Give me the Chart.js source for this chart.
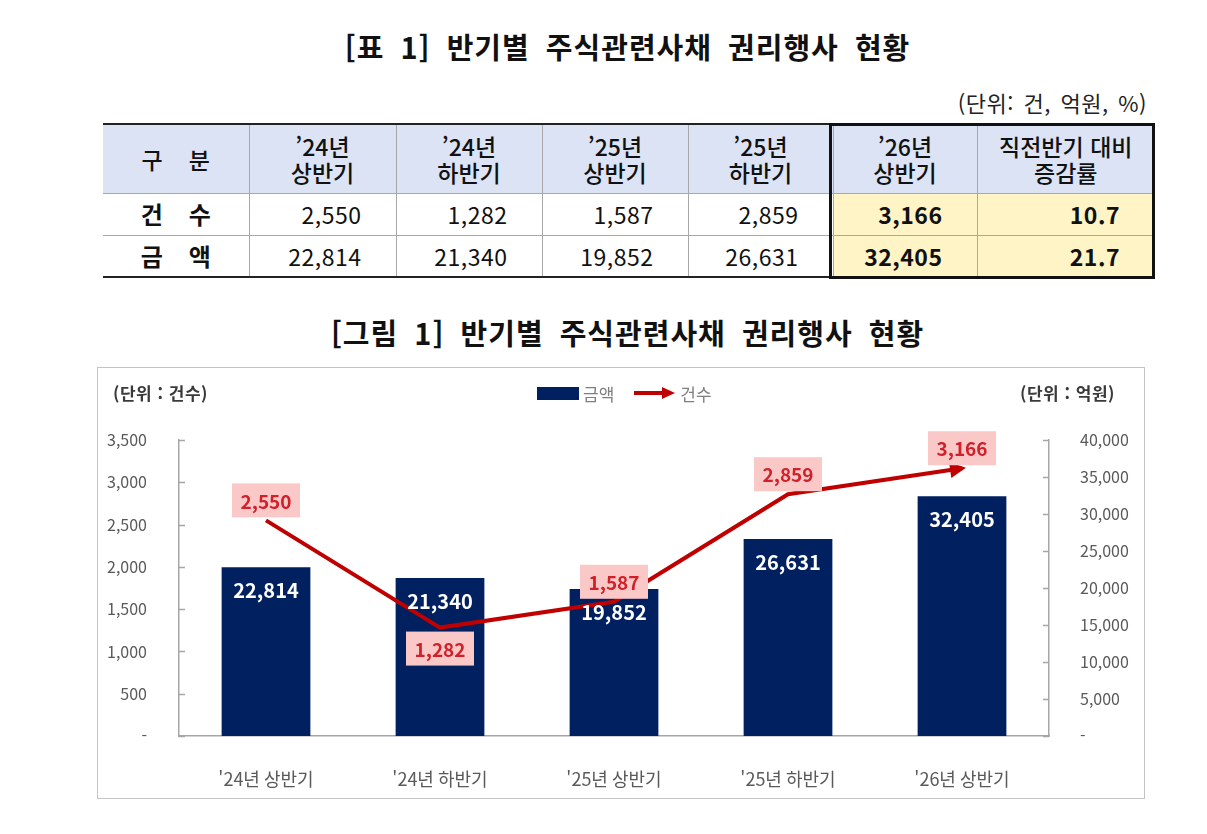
<!DOCTYPE html>
<html lang="ko">
<head>
<meta charset="utf-8">
<title>반기별 주식관련사채 권리행사 현황</title>
<script src="https://cdn.jsdelivr.net/npm/chart.js@4.4.1/dist/chart.umd.min.js"></script>
<style>
    * { box-sizing: border-box; }
    body {
        margin: 0;
        width: 1207px;
        height: 834px;
        position: relative;
        background: #fff;
        overflow: hidden;
        font-family: 'Noto Sans CJK KR', sans-serif;
        color: #111;
    }
    .title {
        position: absolute;
        left: 24px;
        width: 1207px;
        text-align: center;
        font-size: 29px;
        font-weight: 700;
        line-height: 32px;
        letter-spacing: 1px;
        word-spacing: 7px;
    }
    #title1 { top: 30px; }
    #title2 { top: 316px; }
    #unit {
        position: absolute;
        right: 60px;
        top: 86px;
        font-size: 22px;
        letter-spacing: 0.5px;
        word-spacing: 3px;
        color: #222;
    }

    /* ---------- 표 ---------- */
    #summary {
        position: absolute;
        left: 103px;
        top: 123px;
        border-collapse: collapse;
        table-layout: fixed;
        width: 1051px;
    }
    #summary td, #summary th {
        border-left: 1px solid #a8a8a8;
        border-top: 1px solid #a8a8a8;
        padding: 0;
        font-size: 23px;
        line-height: 26px;
    }
    #summary th {
        background: #dce3f4;
        font-weight: 500;
        text-align: center;
        height: 69px;
        border-top: 2px solid #222;
    }
    #summary td { text-align: right; padding-right: 34px; height: 42px; letter-spacing: 0.5px; }
    #summary tr:last-child td { border-bottom: 2px solid #222; }
    #summary .lab { text-align: center; padding: 0; font-weight: 700; font-size: 24px; letter-spacing: 26px; text-indent: 26px; }
    #summary th.lab { font-weight: 500; font-size: 23px; }
    #summary tr > :first-child { border-left: none; }
    #summary .hl { background: #fff4c6; font-weight: 700; }
    #hlBox {
        position: absolute;
        left: 829px;
        top: 123px;
        width: 326px;
        height: 156px;
        border: 3px solid #111;
        pointer-events: none;
    }

    /* ---------- 그림 ---------- */
    #chartBox {
        position: absolute;
        left: 97px;
        top: 367px;
        width: 1048px;
        height: 432px;
        border: 1px solid #c4c4c4;
    }
    .unitLab {
        position: absolute;
        top: 380px;
        font-size: 17px;
        font-weight: 700;
        letter-spacing: 0.5px;
        color: #3a3a3a;
    }
    #legend {
        position: absolute;
        left: 537px;
        top: 380px;
        height: 26px;
        display: flex;
        align-items: center;
        font-size: 17px;
        color: #7f7f7f;
    }
    #legend .bar { width: 42px; height: 13px; background: #002060; margin-right: 4px; }
    #legend svg { margin: 0 4px 0 20px; }
</style>
</head>
<body>

<div class="title" id="title1">[표 1] 반기별 주식관련사채 권리행사 현황</div>
<div id="unit">(단위: 건, 억원, %)</div>
<table id="summary"></table>
<div id="hlBox"></div>

<div class="title" id="title2">[그림 1] 반기별 주식관련사채 권리행사 현황</div>
<div id="chartBox"><canvas id="mainChart" width="1046" height="430"></canvas></div>
<div class="unitLab" style="left:113px">(단위 : 건수)</div>
<div class="unitLab" style="left:1020px">(단위 : 억원)</div>
<div id="legend">
    <div class="bar"></div><span>금액</span>
    <svg width="42" height="14" viewBox="0 0 42 14"><line x1="0" y1="7" x2="30" y2="7" stroke="#c00000" stroke-width="4"/><polygon points="28,1 41,7 28,13" fill="#c00000"/></svg>
    <span>건수</span>
</div>

<script>
/* ---------- 데이터 ---------- */
const periods = ["'24년 상반기", "'24년 하반기", "'25년 상반기", "'25년 하반기", "'26년 상반기"];
const tableHeads = ["’24년<br>상반기", "’24년<br>하반기", "’25년<br>상반기", "’25년<br>하반기", "’26년<br>상반기", "직전반기 대비<br>증감률"];
const counts = [2550, 1282, 1587, 2859, 3166];       // 건수
const amounts = [22814, 21340, 19852, 26631, 32405]; // 금액(억원)
const changeRates = ["10.7", "21.7"];                // 직전반기 대비 증감률(%)
const countTicks = [0, 500, 1000, 1500, 2000, 2500, 3000, 3500];
const amountTicks = [0, 5000, 10000, 15000, 20000, 25000, 30000, 35000, 40000];

const NAVY = "#002060";
const RED = "#c00000";
const AXIS = "#a6a6a6";
const FONT = "'Noto Sans CJK KR', sans-serif";

const fmt = v => v.toLocaleString("en-US");

/* ---------- 표 ---------- */
function buildTable() {
    const t = document.getElementById("summary");
    const widths = [146, 147, 146, 146, 145, 144, 177];
    let html = "<colgroup>" + widths.map(w => `<col style="width:${w}px">`).join("") + "</colgroup>";
    html += `<tr><th class="lab">구분</th>${tableHeads.map(h => `<th>${h}</th>`).join("")}</tr>`;
    const rows = [["건수", counts, changeRates[0]], ["금액", amounts, changeRates[1]]];
    rows.forEach(([name, vals, rate]) => {
        html += `<tr><td class="lab">${name}</td>`;
        vals.forEach((v, i) => {
            html += `<td${i === vals.length - 1 ? ' class="hl"' : ""}>${fmt(v)}</td>`;
        });
        html += `<td class="hl">${rate}</td></tr>`;
    });
    t.innerHTML = html;
}
buildTable();

/* ---------- 그림: 라벨, 눈금, 화살표 ---------- */
const decorPlugin = {
    id: "decor",
    afterDatasetsDraw(chart) {
        const ctx = chart.ctx;
        const { y, y1 } = chart.scales;
        ctx.save();

        // 축 눈금(안쪽)
        ctx.strokeStyle = AXIS;
        ctx.lineWidth = 1.5;
        y.ticks.forEach(t => {
            const py = Math.round(y.getPixelForValue(t.value)) + 0.5;
            ctx.beginPath(); ctx.moveTo(y.right, py); ctx.lineTo(y.right + 6, py); ctx.stroke();
        });
        y1.ticks.forEach(t => {
            const py = Math.round(y1.getPixelForValue(t.value)) + 0.5;
            ctx.beginPath(); ctx.moveTo(y1.left - 6, py); ctx.lineTo(y1.left, py); ctx.stroke();
        });

        // 막대 라벨
        ctx.textAlign = "center";
        ctx.textBaseline = "middle";
        ctx.font = `700 20px ${FONT}`;
        ctx.fillStyle = "#ffffff";
        chart.getDatasetMeta(0).data.forEach((bar, i) => {
            ctx.fillText(fmt(amounts[i]), bar.x, bar.y + 23);
        });

        // 꺾은선 끝 화살표
        const pts = chart.getDatasetMeta(1).data;
        const a = pts[pts.length - 2], b = pts[pts.length - 1];
        const ang = Math.atan2(b.y - a.y, b.x - a.x);
        ctx.save();
        ctx.translate(b.x, b.y);
        ctx.rotate(ang);
        ctx.fillStyle = RED;
        ctx.beginPath();
        ctx.moveTo(4, 0);
        ctx.lineTo(-12, -8);
        ctx.lineTo(-12, 8);
        ctx.closePath();
        ctx.fill();
        ctx.restore();

        // 꺾은선 라벨
        ctx.font = `700 19px ${FONT}`;
        pts.forEach((p, i) => {
            const below = i === 1;
            const cy = below ? p.y + 21 : p.y - 20;
            ctx.fillStyle = "#fbc8c8";
            ctx.fillRect(p.x - 34, cy - 17, 68, 34);
            ctx.fillStyle = "#d0202a";
            ctx.fillText(fmt(counts[i]), p.x, cy + 1);
        });
        ctx.restore();
    }
};

/* ---------- 그림: 차트 ---------- */
new Chart(document.getElementById("mainChart"), {
    data: {
        labels: periods,
        datasets: [
            {
                type: "bar",
                label: "금액",
                data: amounts,
                yAxisID: "y1",
                backgroundColor: NAVY,
                barPercentage: 0.51,
                categoryPercentage: 1,
                order: 2
            },
            {
                type: "line",
                label: "건수",
                data: counts,
                yAxisID: "y",
                borderColor: RED,
                borderWidth: 4,
                pointRadius: 0,
                tension: 0,
                order: 1
            }
        ]
    },
    options: {
        responsive: false,
        animation: false,
        layout: { padding: { top: 72, left: 0, right: 0, bottom: 0 } },
        plugins: {
            legend: { display: false },
            tooltip: { enabled: false }
        },
        scales: {
            x: {
                grid: { display: false },
                border: { display: true, color: AXIS, width: 1.5 },
                ticks: { color: "#595959", font: { family: FONT, size: 18 }, padding: 24 },
                afterFit: s => { s.height = 62; }
            },
            y: {
                position: "left",
                min: countTicks[0],
                max: countTicks[countTicks.length - 1],
                grid: { display: false },
                border: { display: true, color: AXIS, width: 1.5 },
                afterBuildTicks: s => { s.ticks = countTicks.map(v => ({ value: v })); },
                ticks: {
                    color: "#595959",
                    font: { family: FONT, size: 16 },
                    padding: 24,
                    callback: v => (v === 0 ? "-" : fmt(v))
                },
                afterFit: s => { s.width = 81; }
            },
            y1: {
                position: "right",
                min: amountTicks[0],
                max: amountTicks[amountTicks.length - 1],
                grid: { display: false },
                border: { display: true, color: AXIS, width: 1.5 },
                afterBuildTicks: s => { s.ticks = amountTicks.map(v => ({ value: v })); },
                ticks: {
                    color: "#595959",
                    font: { family: FONT, size: 16 },
                    padding: 23,
                    callback: v => (v === 0 ? "-" : fmt(v))
                },
                afterFit: s => { s.width = 95; }
            }
        }
    },
    plugins: [decorPlugin]
});
</script>
</body>
</html>
